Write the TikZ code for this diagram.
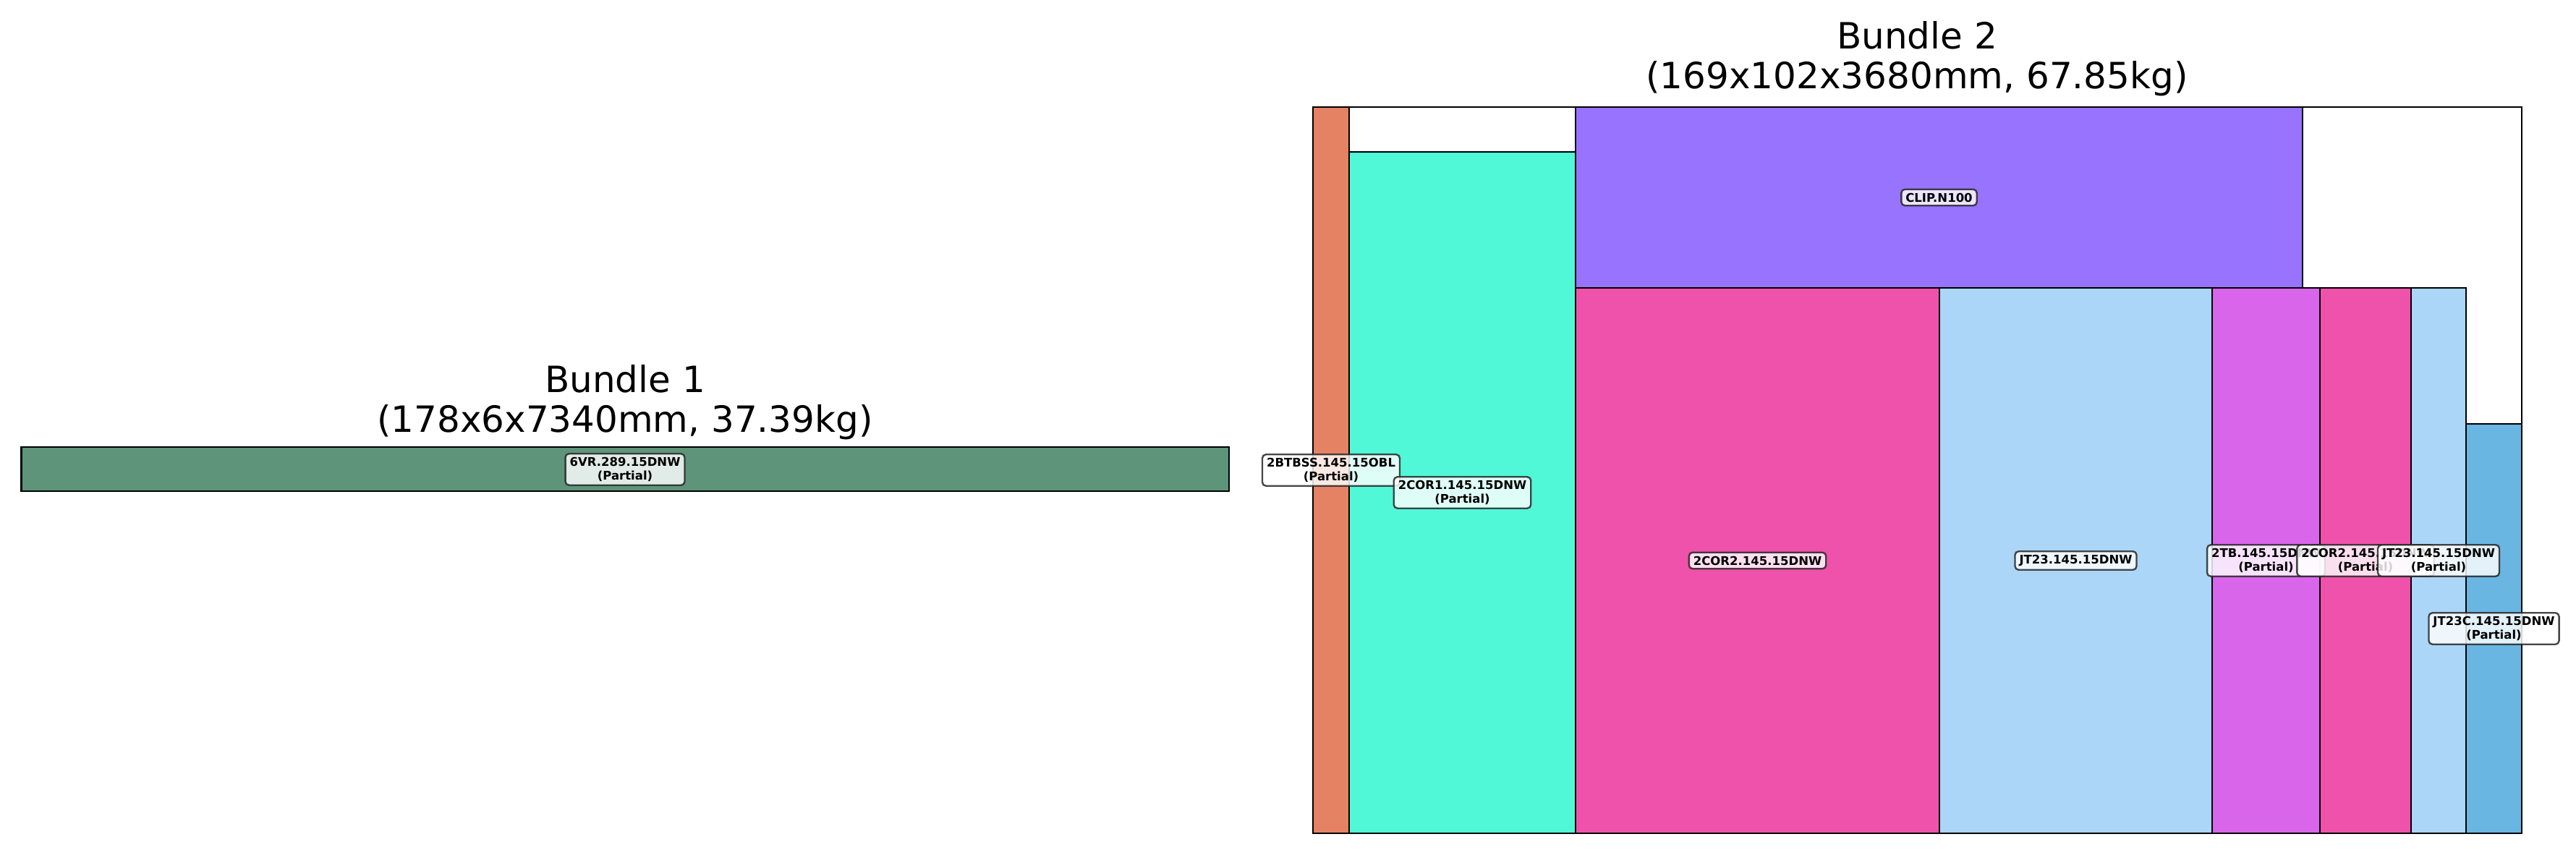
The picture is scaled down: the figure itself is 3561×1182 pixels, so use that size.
\documentclass[tikz,border=0pt]{standalone}
\usepackage{fontspec}
\setmainfont{DejaVu Sans}
\definecolor{cGreen}{HTML}{5E947A}
\definecolor{cOrange}{HTML}{E48263}
\definecolor{cCyan}{HTML}{50F8D8}
\definecolor{cPurple}{HTML}{9873FD}
\definecolor{cPink}{HTML}{EE52AA}
\definecolor{cLight}{HTML}{ABD6F8}
\definecolor{cMagenta}{HTML}{D865EA}
\definecolor{cBlue}{HTML}{69B6E2}
\begin{document}
\begin{tikzpicture}[x=1pt,y=-1pt,
  part/.style={draw=black,line width=2.7pt},
  lbl/.style={draw=black!85,rounded corners=5pt,line width=2.4pt,fill=white,fill opacity=0.82,draw opacity=0.85,text opacity=1,
    font=\fontsize{16.5}{19}\selectfont\bfseries,align=center,inner xsep=6pt,inner ysep=5pt},
  ttl/.style={font=\fontsize{50}{55}\selectfont,anchor=base,inner sep=0pt}]
\useasboundingbox (0,0) rectangle (3561,1182);
% Bundle 1
\node[ttl] (t1a) at (864,542) {Bundle 1};
\node[ttl] (t1b) at (864,597) {(178x6x7340mm, 37.39kg)};
\filldraw[part,fill=cGreen] (29.5,618) rectangle (1699,679);
% Bundle 2
\node[ttl] (t2a) at (2650,68) {Bundle 2};
\node[ttl] (t2b) at (2650,123) {(169x102x3680mm, 67.85kg)};
\filldraw[part,fill=white] (1815,148) rectangle (3486,1152);
\filldraw[part,fill=cOrange] (1815,148) rectangle (1865,1152);
\filldraw[part,fill=cCyan] (1865,210) rectangle (2178,1152);
\filldraw[part,fill=cPurple] (2178,148) rectangle (3183,398);
\filldraw[part,fill=cPink] (2178,398) rectangle (2681,1152);
\filldraw[part,fill=cLight] (2681,398) rectangle (3058,1152);
\filldraw[part,fill=cMagenta] (3058,398) rectangle (3207,1152);
\filldraw[part,fill=cPink] (3207,398) rectangle (3333,1152);
\filldraw[part,fill=cLight] (3333,398) rectangle (3409,1152);
\filldraw[part,fill=cBlue] (3409,586) rectangle (3486,1152);
% labels
\node[lbl] (l1) at (864,649) {6VR.289.15DNW\\(Partial)};
\node[lbl] (l2) at (1840,650) {2BTBSS.145.15OBL\\(Partial)};
\node[lbl] (l3) at (2021.5,681) {2COR1.145.15DNW\\(Partial)};
\node[lbl] (l4) at (2680.5,273) {CLIP.N100};
\node[lbl] (l5) at (2429.5,775) {2COR2.145.15DNW};
\node[lbl] (l6) at (2869.5,775) {JT23.145.15DNW};
\node[lbl] (l7) at (3132.5,775) {2TB.145.15DNW\\(Partial)};
\node[lbl] (l8) at (3270,775) {2COR2.145.15DNW\\(Partial)};
\node[lbl] (l9) at (3371,775) {JT23.145.15DNW\\(Partial)};
\node[lbl] (l10) at (3447.5,869) {JT23C.145.15DNW\\(Partial)};
\end{tikzpicture}
\end{document}
